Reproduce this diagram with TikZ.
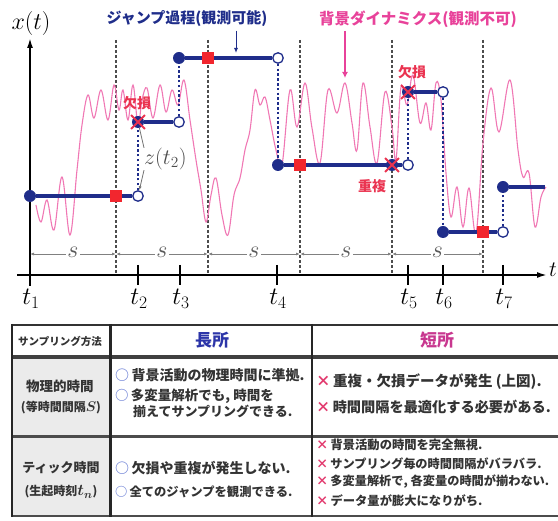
\RequirePackage{fix-cm}
\documentclass[tikz,border=0pt]{standalone}
\usepackage{fontspec}
\newfontfamily\jp{Noto Sans CJK JP}
\usetikzlibrary{arrows.meta,shapes.misc}

\definecolor{jumpblue}{HTML}{1F2D8A}
\definecolor{bgpink}{HTML}{F078B4}
\definecolor{lblpink}{HTML}{E8429A}
\definecolor{sqred}{HTML}{F2262E}
\definecolor{lossred}{HTML}{EA3350}
\definecolor{okblue}{HTML}{6F82D6}
\definecolor{ngred}{HTML}{E23A6E}
\definecolor{cellgray}{HTML}{EBEBEB}
\definecolor{txtgray}{HTML}{333333}
\definecolor{goodblue}{HTML}{2C35A8}
\definecolor{badpink}{HTML}{C8378F}

\newcommand{\fsz}[1]{\fontsize{#1}{#1}\selectfont}
\newcommand{\okmark}{{\color{okblue}○}\,}
\newcommand{\ngmark}{{\color{ngred}×}\,}

\begin{document}
\begin{tikzpicture}
  [x=1pt,y=-1pt,
   fdot/.style={circle,fill=jumpblue,inner sep=0pt,minimum size=12pt},
   odot/.style={circle,draw=jumpblue,fill=white,line width=1.3pt,inner sep=0pt,minimum size=10.5pt},
   rsq/.style={fill=sqred,inner sep=0pt,minimum size=12.5pt},
   lossx/.style={cross out,draw=lossred,line width=1.8pt,inner sep=0pt,minimum size=12pt},
   hold/.style={jumpblue,line width=3.2pt},
   jump/.style={jumpblue,line width=2.8pt,dash pattern=on 2.5pt off 2.3pt},
   samp/.style={black!70,line width=1.2pt,dash pattern=on 3pt off 2pt},
   sspan/.style={black!50,line width=0.8pt,{Latex[length=4pt,width=3pt]}-{Latex[length=4pt,width=3pt]}},
   cell/.style={font=\jp\bfseries\fsz{13},text=txtgray,inner sep=0pt}]
  \useasboundingbox (0,0) rectangle (558,521);

  % sampling times
  \foreach \x in {116,208,300,392,483}
    \draw[samp] (\x,40) -- (\x,275);

  % axes
  \coordinate (yb) at (30,286);
  \coordinate (yt) at (30,38);
  \coordinate (xl) at (17,275);
  \coordinate (xr) at (547,275);
  \draw[line width=1.8pt,-{Latex[length=10pt,width=6pt]}] (yb) -- (yt);
  \draw[line width=1.8pt,-{Latex[length=10pt,width=6pt]}] (xl) -- (xr);
  \node[font=\fsz{24}] (xt) at (31,24) {$x(t)$};
  \node[font=\fsz{22},anchor=west,inner sep=0pt] (tt) at (549,270) {$t$};

  \foreach \x in {138,180,277,408,443,503}
    \draw[line width=1.5pt] (\x,265) -- (\x,285);
  \foreach \n/\x in {1/31,2/139,3/181,4/278,5/409,6/444,7/504}
    \node[font=\fsz{25}] (t\n) at (\x,299) {$t_{\n}$};

  % interval s
  \foreach \a/\b in {30/116,116/208,208/300,300/392,392/483} {
    \draw[sspan] (\a,254) -- (\b,254);
    \node[fill=white,inner sep=1pt,text=black!65,font=\fsz{24}] (s\a) at ({(\a+\b)/2},252) {$s$};
  }

  % background dynamics
  \draw[bgpink,line width=1.1pt] plot[smooth,tension=0.6] coordinates {
    (36,205) (41,222) (47,200) (54,230) (62,177) (70,235) (77,170) (82,125)
    (88,95) (94,118) (101,90) (108,120) (114,85) (119,110) (123,90) (128,120)
    (133,85) (138,125) (142,100) (147,88) (153,118) (160,85) (166,112) (172,90)
    (178,105) (184,80) (190,120) (196,160) (201,190) (206,222) (211,195) (216,178)
    (222,215) (228,235) (234,195) (240,178) (245,150) (250,130) (255,90) (260,105)
    (265,97) (270,120) (276,150) (282,165) (290,90) (297,127) (305,83) (312,128)
    (320,163) (328,90) (337,113) (345,83) (352,123) (357,150) (363,83) (370,127)
    (377,163) (385,92) (392,127) (396,160) (401,87) (407,105) (413,75) (420,123)
    (426,103) (431,130) (436,83) (441,100) (446,173) (451,217) (457,187) (463,227)
    (469,188) (476,233) (483,143) (491,88) (499,132) (510,80) (518,150) (523,177)
    (529,173) (535,227) (541,197) (546,187)};

  % jump process
  \node[fdot] (p1) at (30,196) {};
  \node[odot] (q1) at (138,196) {};
  \node[fdot] (p2) at (138,122) {};
  \node[odot] (q2) at (179,122) {};
  \node[fdot] (p3) at (179,58) {};
  \node[odot] (q3) at (278,58) {};
  \node[fdot] (p4) at (278,165) {};
  \node[fdot] (ov) at (392,165) {};
  \node[odot] (q4) at (408,165) {};
  \node[fdot] (p5) at (408,92) {};
  \node[odot] (q5) at (443,92) {};
  \node[fdot] (p6) at (443,232) {};
  \node[odot] (q6) at (503,232) {};
  \node[fdot] (p7) at (503,187) {};
  \coordinate (e7) at (545,187);

  \foreach \i in {1,...,6}
    \draw[hold] (p\i) -- (q\i);
  \draw[hold] (p7) -- (e7);
  \foreach \i/\j in {1/2,2/3,3/4,4/5,5/6,6/7}
    \draw[jump] (q\i) -- (p\j);

  \node[rsq] (r1) at (116,196) {};
  \node[rsq] (r2) at (208,58) {};
  \node[rsq] (r3) at (300,165) {};
  \node[rsq] (r4) at (483,232) {};
  \node[lossx] (x1) at (p2) {};
  \node[lossx] (x2) at (p5) {};
  \node[lossx] (x3) at (ov) {};

  \node[font=\jp\bfseries\fsz{14},text=lossred] (miss1) at (137,103) {欠損};
  \node[font=\jp\bfseries\fsz{14},text=lossred] (miss2) at (412,72) {欠損};
  \node[font=\jp\bfseries\fsz{14},text=lossred] (dup) at (372,186) {重複};

  \node[font=\fsz{22},text=black!70,anchor=west,inner sep=0pt] (zlbl) at (144,159) {$z(t_2)$};
  \draw[black!55,line width=0.8pt] (zlbl.north west) -- (p2);
  \draw[black!55,line width=0.8pt,-{Latex[length=4pt,width=3pt]}] (zlbl.south west) -- (q1);

  % labels
  \node[font=\jp\bfseries\fsz{15},text=jumpblue] (jumplbl) at (187,19) {ジャンプ過程(観測可能)};
  \coordinate (ja) at (236,53);
  \draw[jumpblue,line width=0.9pt,-{Latex[length=5pt,width=4pt]}] (jumplbl.south -| ja) -- (ja);
  \node[font=\jp\bfseries\fsz{15.5},text=lblpink] (bglbl) at (418,19) {背景ダイナミクス(観測不可)};
  \coordinate (ba) at (345,78);
  \draw[lblpink,line width=1.5pt,-{Latex[length=6pt,width=6pt]}] (bglbl.south -| ba) -- (ba);

  % table
  \fill[cellgray] (12,359) rectangle (110,516);
  \draw[black!80,line width=2pt] (12,325) -- (570,325);
  \draw[black!75,line width=4pt] (12,357) -- (570,357);
  \draw[black!70,line width=3pt] (12,437) -- (570,437);
  \draw[black!70,line width=2pt] (12,516) -- (570,516);
  \draw[black!85,line width=2.5pt] (12,324) -- (12,517);
  \draw[black!85,line width=3pt] (110,324) -- (110,517);
  \draw[black!85,line width=2pt] (312,324) -- (312,517);

  \node[cell,font=\jp\bfseries\fsz{10.5}] (hmeth) at (60,341) {サンプリング方法};
  \node[cell,font=\jp\bfseries\fsz{17},text=goodblue] (hgood) at (212,340) {長所};
  \node[cell,font=\jp\bfseries\fsz{17},text=badpink] (hbad) at (437,340) {短所};

  \node[cell,font=\jp\bfseries\fsz{13.5}] (m1a) at (60,386) {物理的時間};
  \node[cell,font=\jp\bfseries\fsz{12}\boldmath] (m1b) at (61,408) {(等時間間隔{\fsz{14}$S$})};
  \node[cell,font=\jp\bfseries\fsz{13}] (m2a) at (61,468) {ティック時間};
  \node[cell,font=\jp\bfseries\fsz{12}\boldmath] (m2b) at (61,492) {(生起時刻{\fsz{16}$t_n$})};

  \node[cell,anchor=west,font=\jp\bfseries\fsz{14}] (g1) at (115,375) {\okmark 背景活動の物理時間に準拠.};
  \node[cell,anchor=west,font=\jp\bfseries\fsz{13.5}] (g2) at (115,396) {\okmark 多変量解析でも, 時間を};
  \node[cell,anchor=west] (g3) at (133,411) {揃えてサンプリングできる.};
  \node[cell,anchor=west,font=\jp\bfseries\fsz{14}] (g4) at (115,468) {\okmark 欠損や重複が発生しない.};
  \node[cell,anchor=west,font=\jp\bfseries\fsz{12.3}] (g5) at (115,492) {\okmark 全てのジャンプを観測できる.};

  \node[cell,anchor=west,font=\jp\bfseries\fsz{14.5}] (b1) at (316,382) {\ngmark 重複・欠損データが発生 (上図).};
  \node[cell,anchor=west,font=\jp\bfseries\fsz{14.2}] (b2) at (316,407) {\ngmark 時間間隔を最適化する必要がある.};
  \node[cell,anchor=west,font=\jp\bfseries\fsz{12.3}] (b3) at (316,445) {\ngmark 背景活動の時間を完全無視.};
  \node[cell,anchor=west,font=\jp\bfseries\fsz{12.2}] (b4) at (316,464) {\ngmark サンプリング毎の時間間隔がバラバラ.};
  \node[cell,anchor=west,font=\jp\bfseries\fsz{12.2}] (b5) at (316,482) {\ngmark 多変量解析で, 各変量の時間が揃わない.};
  \node[cell,anchor=west,font=\jp\bfseries\fsz{12.3}] (b6) at (316,501) {\ngmark データ量が膨大になりがち.};
\end{tikzpicture}
\end{document}
